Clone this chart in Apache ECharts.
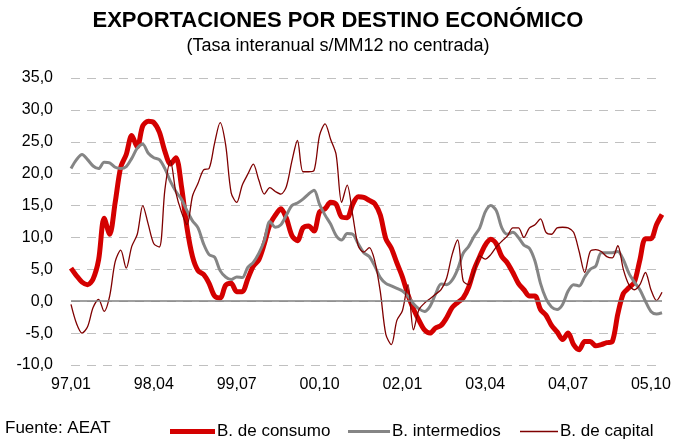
<!DOCTYPE html>
<html>
<head>
<meta charset="utf-8">
<title>Exportaciones por destino económico</title>
<script src="https://cdn.jsdelivr.net/npm/echarts@6/dist/echarts.min.js"></script>
<style>
  html, body { margin: 0; padding: 0; background: #fff; }
  #chart { width: 676px; height: 441px; }
</style>
</head>
<body>
<div id="chart"></div>
<script>
// meses 97,01 ... 05,12
var meses = [];
for (var a = 1997; a <= 2005; a++) {
    for (var m = 1; m <= 12; m++) {
        meses.push(String(a).slice(2) + ',' + (m < 10 ? '0' + m : m));
    }
}

var consumo = [
    5.2, 4.0, 3.0, 2.6, 3.5, 6.5, 13.0, 10.5, 15.5, 21.0,
    23.0, 26.0, 24.2, 27.5, 28.2, 28.0, 26.5, 23.5, 21.5, 22.5,
    18.0, 11.5, 7.0, 4.8, 4.2, 2.8, 0.8, 0.5, 2.5, 2.8,
    1.5, 1.5, 3.5, 5.5, 6.5, 9.0, 12.0, 13.5, 14.5, 13.0,
    10.3, 9.5, 11.5, 11.8, 11.0, 14.0, 14.5, 15.5, 15.2, 13.2,
    13.1, 15.2, 16.4, 16.3, 15.8, 15.3, 13.5, 9.8, 8.3, 6.0,
    3.8, 1.0, -1.2, -3.0, -4.5, -5.0, -4.2, -3.8, -2.6, -1.0,
    -0.2, 0.5, 2.2, 5.0, 7.0, 8.8, 9.7, 9.0, 7.0, 6.0,
    4.5, 2.8, 1.8, 0.8, 0.8, -1.3, -2.2, -3.8, -4.8, -6.0,
    -5.0, -6.8, -7.6, -6.3, -6.3, -7.0, -6.8, -6.5, -6.3, -2.0,
    1.2, 2.1, 3.0, 6.5, 9.8, 9.8, 12.0, 13.6
];

var intermedios = [
    20.8, 22.2, 23.0, 22.2, 21.2, 20.8, 21.8, 21.7, 21.0, 20.8,
    21.1, 22.4, 24.0, 24.6, 23.2, 22.5, 22.2, 20.8, 18.8, 17.2,
    16.0, 14.2, 12.6, 11.5, 9.0, 7.3, 6.9, 4.8, 3.8, 3.4,
    3.8, 3.7, 5.3, 6.1, 7.5, 9.5, 12.5, 11.6, 12.0, 13.5,
    15.0, 15.4, 16.0, 16.8, 17.4, 15.2, 13.5, 12.1, 10.3, 9.6,
    10.6, 10.5, 9.0, 7.6, 7.0, 5.5, 3.7, 2.8, 2.4, 2.0,
    1.6, 0.8, -0.4, -1.2, -1.6, -0.8, 1.1, 2.7, 2.6, 3.3,
    5.0, 7.5, 8.6, 10.2, 11.5, 14.0, 15.0, 14.2, 11.5, 10.5,
    10.8, 10.0, 8.8, 8.3, 6.3, 2.8, 0.4, -0.9, -1.3, -0.5,
    1.6, 2.6, 2.4, 3.8, 5.0, 5.5, 7.6, 7.6, 7.6, 7.8,
    6.5, 4.4, 3.0, 1.8, 0.0, -1.6, -2.0, -1.8
];

var capital = [
    -0.5, -3.5, -5.0, -4.0, -1.0, 0.3, -1.6, 0.8, 6.2, 8.0,
    5.2, 8.6, 10.5, 15.0, 12.0, 9.0, 8.5, 17.5, 22.0, 17.0,
    14.0, 12.0, 16.5, 18.5, 20.6, 20.8, 24.8, 28.0, 24.5, 17.0,
    15.5, 18.2, 19.9, 21.5, 19.0, 16.8, 17.8, 17.2, 16.8, 18.0,
    22.0, 25.2, 20.3, 20.3, 20.5, 26.0, 27.8, 25.4, 23.0, 15.5,
    18.2, 13.5, 8.7, 7.7, 8.4, 6.3, 1.5, -5.2, -6.8, -3.0,
    -1.5, 2.6, -4.5, -1.3, -0.3, 0.4, 1.1, 1.8, 3.6, 7.3,
    9.6, 3.2, 2.6, 4.5, 7.1, 6.6, 7.3, 8.5, 9.4, 10.2,
    11.5, 11.5, 10.0, 11.5, 12.0, 12.9, 10.8, 10.5, 11.5, 11.6,
    11.5, 10.8, 7.8, 4.5, 7.8, 8.1, 7.8, 7.0, 6.8, 8.7,
    5.0, 2.6, 1.8, 2.6, 4.5, 1.8, 0.1, 1.4
];

var fuente = 'Liberation Sans, Arial, sans-serif';
var chart = echarts.init(document.getElementById('chart'));

function leyenda(nombre, left, ancho, alto) {
    return {
        data: [nombre],
        left: left,
        top: 418,
        icon: 'rect',
        itemWidth: ancho,
        itemHeight: alto,
        itemGap: 0,
        textStyle: { fontFamily: fuente, fontSize: 17, color: '#000', padding: [0, 0, 0, -3] }
    };
}

chart.setOption({
    animation: false,
    textStyle: { fontFamily: fuente },
    title: {
        text: 'EXPORTACIONES POR DESTINO ECONÓMICO',
        subtext: '(Tasa interanual s/MM12 no centrada)',
        left: 'center',
        top: 5,
        itemGap: 5,
        textStyle: { fontFamily: fuente, fontSize: 22, fontWeight: 'bold', color: '#000' },
        subtextStyle: { fontFamily: fuente, fontSize: 18, color: '#000' }
    },
    legend: [
        leyenda('B. de consumo', 165, 45, 5),
        leyenda('B. intermedios', 343, 42, 3),
        leyenda('B. de capital', 515, 38, 1.5)
    ],
    graphic: [{
        type: 'text',
        left: 5,
        top: 420,
        style: { text: 'Fuente: AEAT', font: '17px ' + fuente, fill: '#000' }
    }],
    grid: { left: 71, right: 14, top: 78, bottom: 76 },
    xAxis: {
        type: 'category',
        data: meses,
        boundaryGap: false,
        axisLine: { show: false },
        axisTick: { show: false },
        axisLabel: { interval: 14, color: '#000', fontSize: 16, margin: 12 }
    },
    yAxis: {
        type: 'value',
        min: -10,
        max: 35,
        interval: 5,
        axisLine: { show: false },
        axisTick: { show: false },
        axisLabel: {
            color: '#000',
            fontSize: 16,
            margin: 18,
            formatter: function (v) { return v.toFixed(1).replace('.', ','); }
        },
        splitLine: { lineStyle: { color: '#c0c0c0', width: 1, type: [9, 7] } }
    },
    series: [
        {
            name: 'B. de consumo',
            type: 'line',
            data: consumo,
            symbol: 'none',
            smooth: 0.3,
            color: '#d40000',
            lineStyle: { width: 5, color: '#d40000' },
            markLine: {
                silent: true,
                symbol: 'none',
                label: { show: false },
                lineStyle: { color: '#808080', width: 1.5, type: 'solid' },
                data: [{ yAxis: 0 }]
            }
        },
        {
            name: 'B. intermedios',
            type: 'line',
            data: intermedios,
            symbol: 'none',
            smooth: 0.3,
            color: '#858585',
            lineStyle: { width: 3, color: '#858585' }
        },
        {
            name: 'B. de capital',
            type: 'line',
            data: capital,
            symbol: 'none',
            smooth: 0.3,
            color: '#7f0000',
            lineStyle: { width: 1.3, color: '#7f0000' }
        }
    ]
});
</script>
</body>
</html>
